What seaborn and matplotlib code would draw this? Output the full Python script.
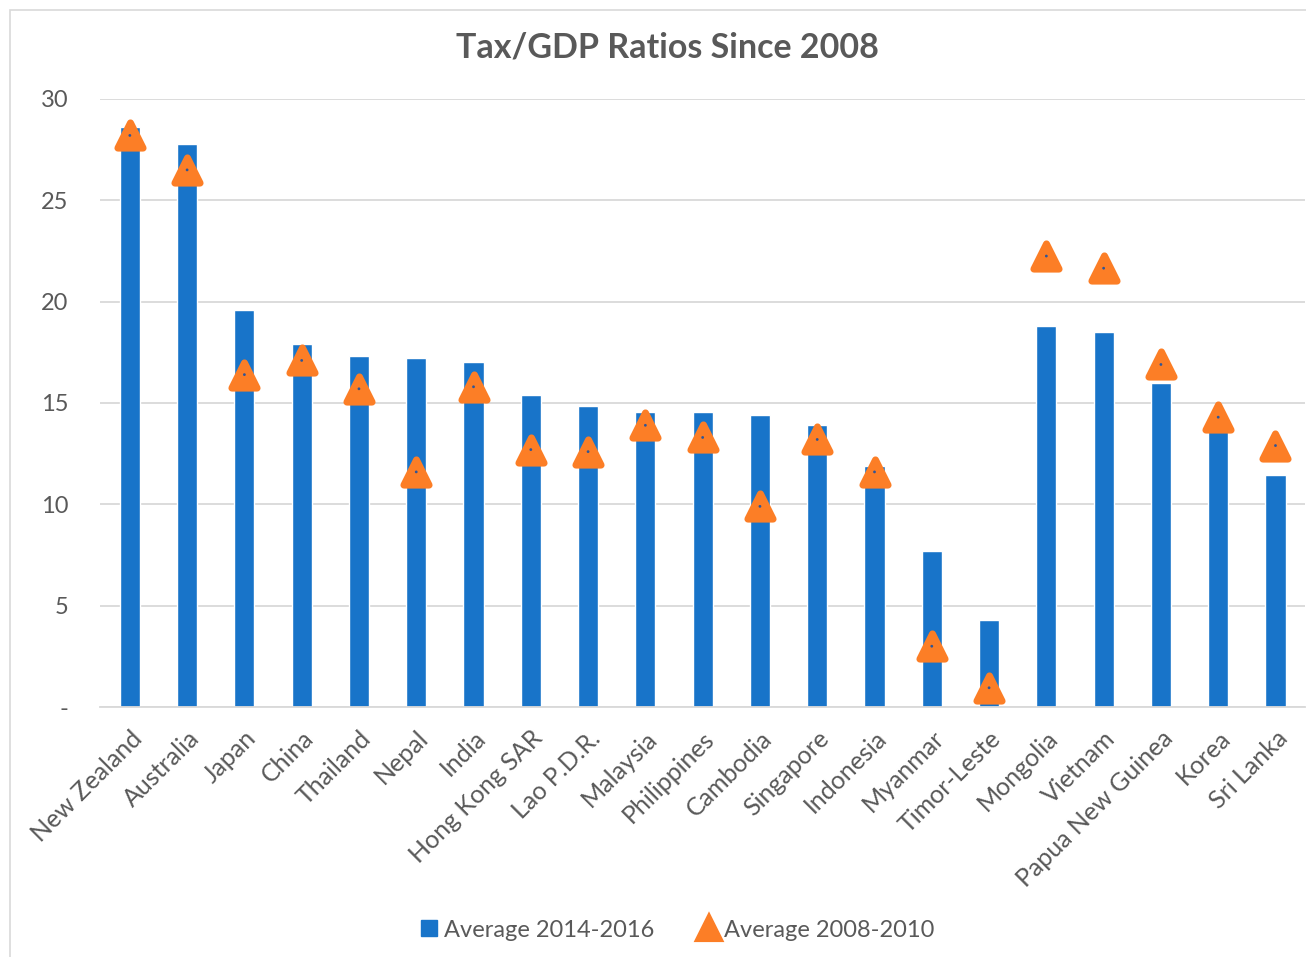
import matplotlib
matplotlib.use("Agg")
import matplotlib.pyplot as plt
import seaborn as sns
import pandas as pd
from matplotlib.lines import Line2D
from matplotlib.patches import Rectangle

countries = ["New Zealand", "Australia", "Japan", "China", "Thailand", "Nepal", "India",
             "Hong Kong SAR", "Lao P.D.R.", "Malaysia", "Philippines", "Cambodia", "Singapore",
             "Indonesia", "Myanmar", "Timor-Leste", "Mongolia", "Vietnam", "Papua New Guinea",
             "Korea", "Sri Lanka"]
avg_2014_2016 = [28.6, 27.8, 19.6, 17.9, 17.3, 17.2, 17.0, 15.4, 14.85, 14.55, 14.55, 14.4,
                 13.9, 11.9, 7.7, 4.3, 18.8, 18.5, 16.0, 13.9, 11.45]
avg_2008_2010 = [28.2, 26.5, 16.4, 17.1, 15.7, 11.6, 15.8, 12.7, 12.6, 13.9, 13.3, 9.9,
                 13.2, 11.6, 3.0, 0.95, 22.25, 21.65, 16.9, 14.3, 12.9]
yticks = [0, 5, 10, 15, 20, 25, 30]
ytick_labels = ["-", "5", "10", "15", "20", "25", "30"]

BLUE = "#1874C9"
ORANGE = "#FC7E26"
TEXT = "#595959"

df = pd.DataFrame({"country": countries, "a1416": avg_2014_2016, "a0810": avg_2008_2010})

sns.set_theme(style="white")
plt.rcParams["font.family"] = ["Lato", "DejaVu Sans"]

fig = plt.figure(figsize=(13.06, 9.57), dpi=100)
ax = fig.add_axes([0.0766, 0.2612, 0.9224, 0.6354])

sns.barplot(data=df, x="country", y="a1416", color=BLUE, width=0.35, saturation=1,
            ax=ax, zorder=2)
sns.scatterplot(x=range(len(countries)), y=df["a0810"], marker="^", s=330, color=ORANGE,
                edgecolor=ORANGE, linewidth=5, ax=ax, zorder=3)
for coll in ax.collections:
    coll.set_joinstyle("round")
sns.scatterplot(x=range(len(countries)), y=df["a0810"], marker="o", s=4, color="#2F5597",
                edgecolor="none", ax=ax, zorder=4)

ax.set_xlim(-0.52, len(countries) - 0.49)
ax.set_ylim(0, 30)
ax.set_yticks(yticks)
ax.set_yticklabels(ytick_labels, fontsize=17, color=TEXT)
ax.yaxis.grid(True, color="#D9D9D9", linewidth=1.3, zorder=0)
ax.set_axisbelow(True)
ax.set_xlabel("")
ax.set_ylabel("")
ax.set_xticks(range(len(countries)))
ax.set_xticklabels(countries, rotation=45, ha="right", rotation_mode="anchor",
                   fontsize=18, color=TEXT)
ax.tick_params(axis="y", length=0, pad=23)
ax.tick_params(axis="x", length=0, pad=14)
for s in ["left", "right", "top"]:
    ax.spines[s].set_visible(False)
ax.spines["bottom"].set_color("#D9D9D9")
ax.spines["bottom"].set_linewidth(1.3)

fig.text(0.511, 0.950, "Tax/GDP Ratios Since 2008", ha="center", va="center",
         fontsize=24.5, fontweight="bold", color=TEXT)

handles = [
    Line2D([0], [0], marker="s", linestyle="none", markersize=12, color=BLUE),
    Line2D([0], [0], marker="^", linestyle="none", markersize=17, color=ORANGE,
           markeredgewidth=3, markeredgecolor=ORANGE),
]
fig.legend(handles, ["Average 2014-2016", "Average 2008-2010"], loc="center",
           bbox_to_anchor=(0.513, 0.028), ncol=2, frameon=False, fontsize=17,
           handletextpad=-0.35, columnspacing=1.3, labelcolor=TEXT)

fig.patches.append(Rectangle((0.008, -0.01), 1.1, 1.0, transform=fig.transFigure,
                             fill=False, edgecolor="#D9D9D9", linewidth=1.2))

fig.savefig("out.png", dpi=100)
